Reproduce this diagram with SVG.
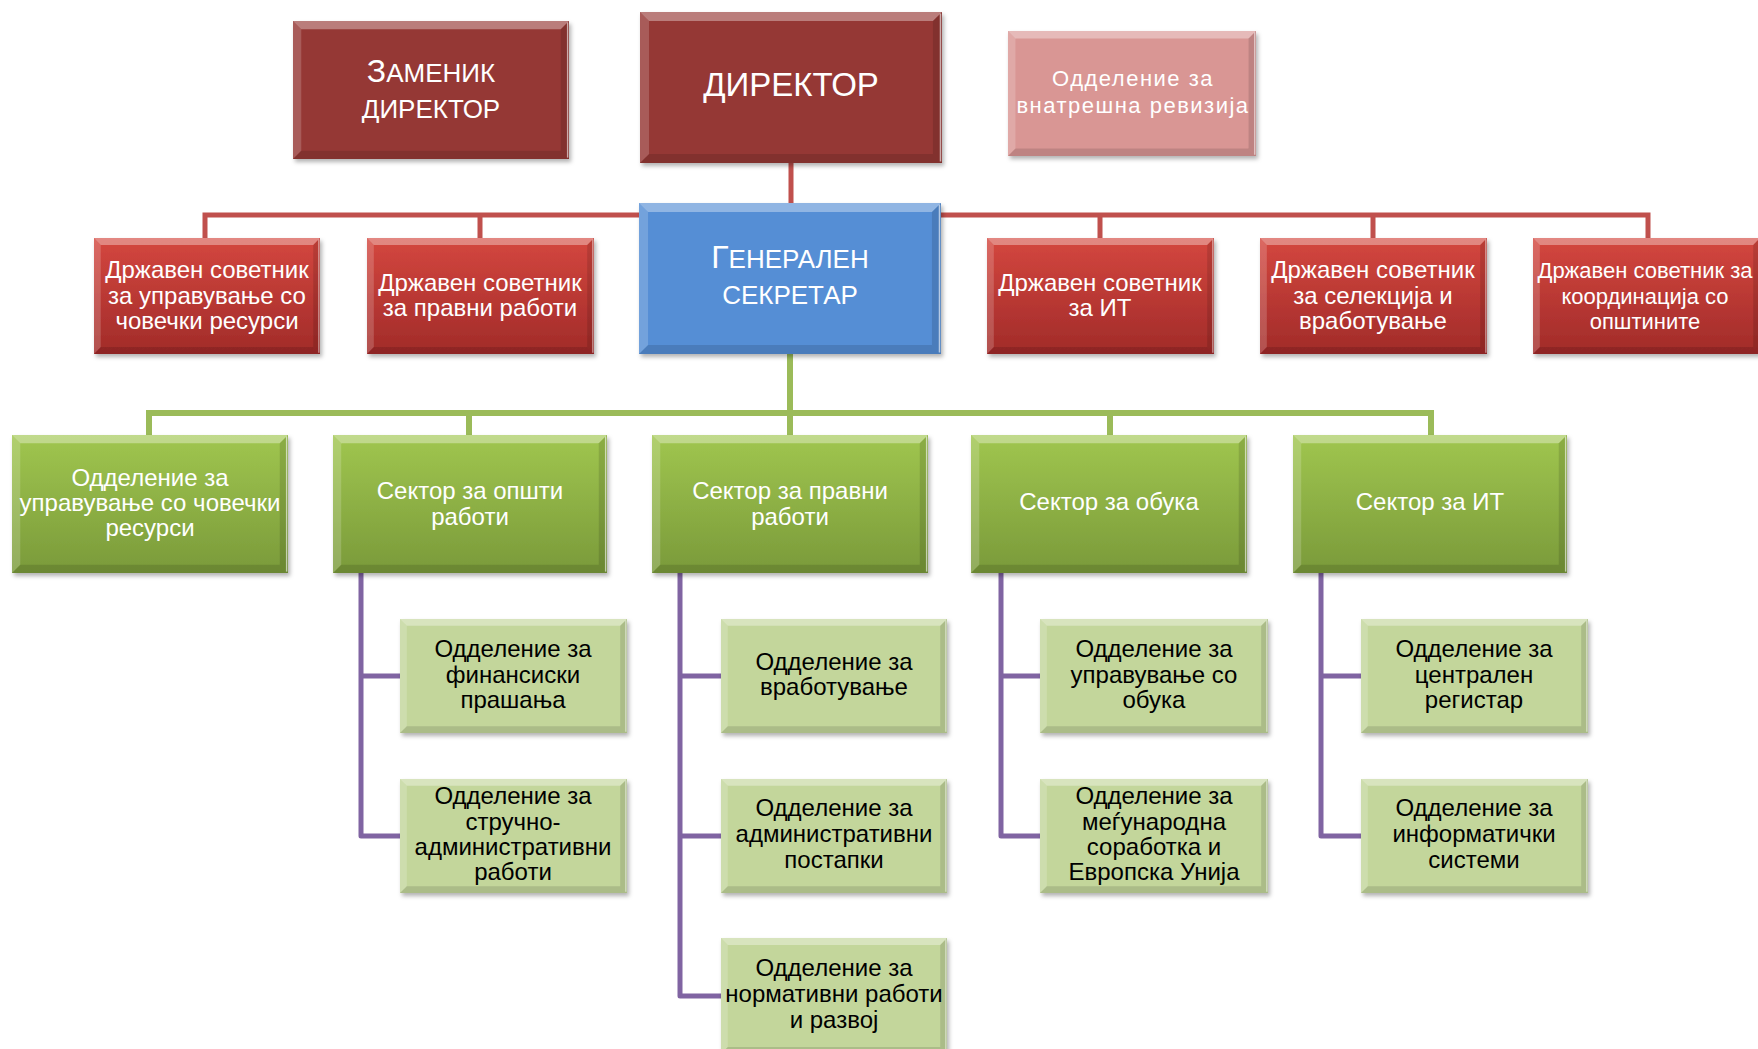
<svg xmlns="http://www.w3.org/2000/svg" xmlns:xlink="http://www.w3.org/1999/xlink" width="1758" height="1049" viewBox="0 0 1758 1049">
<style>
.t{font-family:"Liberation Sans",Arial,sans-serif;text-anchor:middle;font-size:24px}
.w{fill:#fff}
.k{fill:#000}
.s22{font-size:22px}
.s26{font-size:26px}
.s33{font-size:33px}
.rev{font-size:22px;letter-spacing:1.5px}
.dr{fill:#953735}
.pk{fill:#D99694}
.bl{fill:#558ED5}
.rd{fill:url(#gRed)}
.gr{fill:url(#gGreen)}
.lg{fill:#C3D69B}
.box{filter:url(#ds)}
.cr{fill:none;stroke:#C0504D;stroke-width:5}
.cg{fill:none;stroke:#9BBB59;stroke-width:6}
.cp{fill:none;stroke:#8064A2;stroke-width:5;stroke-linejoin:round}
</style>
<defs>
<linearGradient id="gRed" x1="0" y1="0" x2="0" y2="1">
<stop offset="0" stop-color="#D4473F"/><stop offset="1" stop-color="#A12B29"/>
</linearGradient>
<linearGradient id="gGreen" x1="0" y1="0" x2="0" y2="1">
<stop offset="0" stop-color="#A0C64F"/><stop offset="1" stop-color="#7A9A3A"/>
</linearGradient>
<filter id="ds" x="-5%" y="-5%" width="115%" height="120%">
<feDropShadow dx="2" dy="3" stdDeviation="2" flood-color="#000" flood-opacity="0.3"/>
</filter>
<symbol id="bev" viewBox="0 0 200 100" preserveAspectRatio="none">
<path d="M0 0H200L194 6H6Z" fill="#fff" fill-opacity="0.35"/>
<path d="M0 0L6 6V94L0 100Z" fill="#fff" fill-opacity="0.18"/>
<path d="M200 0V100L194 94V6Z" fill="#000" fill-opacity="0.12"/>
<path d="M0 100H200L194 94H6Z" fill="#000" fill-opacity="0.12"/>
<path d="M199 1V99" stroke="#fff" stroke-opacity="0.6" stroke-width="1" fill="none"/>
</symbol>
</defs>

<g id="connectors">
<path class="cr" d="M791 163V203M205 238V215H1648V238M480 215V238M1100 215V238M1373 215V238"/>
<path class="cg" d="M790 354V413M149 435V413H1431V435M469 413V435M790 413V435M1110 413V435"/>
<path class="cp" d="M361 573V836H400M361 676H400M680 573V996H721M680 676H721M680 836H721M1001 573V836H1040M1001 676H1040M1321 573V836H1361M1321 676H1361"/>
</g>

<g id="zamenik">
<rect class="box dr" x="293" y="21" width="276" height="138"/>
<use xlink:href="#bev" x="293" y="21" width="276" height="138"/>
<text class="t w" x="431" y="82"><tspan style="font-size:32px">З</tspan><tspan class="s26">АМЕНИК</tspan></text>
<text class="t w s26" x="431" y="118">ДИРЕКТОР</text>
</g>
<g id="direktor">
<rect class="box dr" x="640" y="12" width="302" height="151"/>
<use xlink:href="#bev" x="640" y="12" width="302" height="151"/>
<text class="t w s33" x="791" y="96">ДИРЕКТОР</text>
</g>
<g id="revizija">
<rect class="box pk" x="1008" y="31" width="248" height="125"/>
<use xlink:href="#bev" x="1008" y="31" width="248" height="125"/>
<text class="t w rev" x="1133" y="86">Одделение за</text>
<text class="t w rev" x="1133" y="113">внатрешна ревизија</text>
</g>

<g id="generalen">
<rect class="box bl" x="639" y="203" width="302" height="151"/>
<use xlink:href="#bev" x="639" y="203" width="302" height="151"/>
<text class="t w" x="790" y="268"><tspan style="font-size:32px">Г</tspan><tspan class="s26">ЕНЕРАЛЕН</tspan></text>
<text class="t w s26" x="790" y="304">СЕКРЕТАР</text>
</g>

<g id="sov-cr">
<rect class="box rd" x="94" y="238" width="226" height="116"/>
<use xlink:href="#bev" x="94" y="238" width="226" height="116"/>
<text class="t w" x="207" y="278">Државен советник</text>
<text class="t w" x="207" y="304">за управување со</text>
<text class="t w" x="207" y="329">човечки ресурси</text>
</g>
<g id="sov-pravni">
<rect class="box rd" x="367" y="238" width="227" height="116"/>
<use xlink:href="#bev" x="367" y="238" width="227" height="116"/>
<text class="t w" x="480" y="291">Државен советник</text>
<text class="t w" x="480" y="316">за правни работи</text>
</g>
<g id="sov-it">
<rect class="box rd" x="987" y="238" width="227" height="116"/>
<use xlink:href="#bev" x="987" y="238" width="227" height="116"/>
<text class="t w" x="1100" y="291">Државен советник</text>
<text class="t w" x="1100" y="316">за ИТ</text>
</g>
<g id="sov-selekcija">
<rect class="box rd" x="1260" y="238" width="227" height="116"/>
<use xlink:href="#bev" x="1260" y="238" width="227" height="116"/>
<text class="t w" x="1373" y="278">Државен советник</text>
<text class="t w" x="1373" y="304">за селекција и</text>
<text class="t w" x="1373" y="329">вработување</text>
</g>
<g id="sov-opstini">
<rect class="box rd" x="1533" y="238" width="227" height="116"/>
<use xlink:href="#bev" x="1533" y="238" width="227" height="116"/>
<text class="t w s22" x="1645" y="278">Државен советник за</text>
<text class="t w s22" x="1645" y="304">координација со</text>
<text class="t w s22" x="1645" y="329">општините</text>
</g>

<g id="odd-cr">
<rect class="box gr" x="12" y="435" width="276" height="138"/>
<use xlink:href="#bev" x="12" y="435" width="276" height="138"/>
<text class="t w" x="150" y="486">Одделение за</text>
<text class="t w" x="150" y="511">управување со човечки</text>
<text class="t w" x="150" y="536">ресурси</text>
</g>
<g id="sek-opsti">
<rect class="box gr" x="333" y="435" width="274" height="138"/>
<use xlink:href="#bev" x="333" y="435" width="274" height="138"/>
<text class="t w" x="470" y="499">Сектор за општи</text>
<text class="t w" x="470" y="525">работи</text>
</g>
<g id="sek-pravni">
<rect class="box gr" x="652" y="435" width="276" height="138"/>
<use xlink:href="#bev" x="652" y="435" width="276" height="138"/>
<text class="t w" x="790" y="499">Сектор за правни</text>
<text class="t w" x="790" y="525">работи</text>
</g>
<g id="sek-obuka">
<rect class="box gr" x="971" y="435" width="276" height="138"/>
<use xlink:href="#bev" x="971" y="435" width="276" height="138"/>
<text class="t w" x="1109" y="510">Сектор за обука</text>
</g>
<g id="sek-it">
<rect class="box gr" x="1293" y="435" width="274" height="138"/>
<use xlink:href="#bev" x="1293" y="435" width="274" height="138"/>
<text class="t w" x="1430" y="510">Сектор за ИТ</text>
</g>

<g id="odd-finansiski">
<rect class="box lg" x="400" y="619" width="227" height="114"/>
<use xlink:href="#bev" x="400" y="619" width="227" height="114"/>
<text class="t k" x="513" y="657">Одделение за</text>
<text class="t k" x="513" y="683">финансиски</text>
<text class="t k" x="513" y="708">прашања</text>
</g>
<g id="odd-strucno">
<rect class="box lg" x="400" y="779" width="227" height="114"/>
<use xlink:href="#bev" x="400" y="779" width="227" height="114"/>
<text class="t k" x="513" y="804">Одделение за</text>
<text class="t k" x="513" y="830">стручно-</text>
<text class="t k" x="513" y="855">административни</text>
<text class="t k" x="513" y="880">работи</text>
</g>
<g id="odd-vrabotuvanje">
<rect class="box lg" x="721" y="619" width="226" height="114"/>
<use xlink:href="#bev" x="721" y="619" width="226" height="114"/>
<text class="t k" x="834" y="670">Одделение за</text>
<text class="t k" x="834" y="695">вработување</text>
</g>
<g id="odd-admin">
<rect class="box lg" x="721" y="779" width="226" height="114"/>
<use xlink:href="#bev" x="721" y="779" width="226" height="114"/>
<text class="t k" x="834" y="816">Одделение за</text>
<text class="t k" x="834" y="842">административни</text>
<text class="t k" x="834" y="868">постапки</text>
</g>
<g id="odd-normativni">
<rect class="box lg" x="721" y="938" width="226" height="116"/>
<use xlink:href="#bev" x="721" y="938" width="226" height="116"/>
<text class="t k" x="834" y="976">Одделение за</text>
<text class="t k" x="834" y="1002">нормативни работи</text>
<text class="t k" x="834" y="1028">и развој</text>
</g>
<g id="odd-obuka">
<rect class="box lg" x="1040" y="619" width="228" height="114"/>
<use xlink:href="#bev" x="1040" y="619" width="228" height="114"/>
<text class="t k" x="1154" y="657">Одделение за</text>
<text class="t k" x="1154" y="683">управување со</text>
<text class="t k" x="1154" y="708">обука</text>
</g>
<g id="odd-megjunarodna">
<rect class="box lg" x="1040" y="779" width="228" height="114"/>
<use xlink:href="#bev" x="1040" y="779" width="228" height="114"/>
<text class="t k" x="1154" y="804">Одделение за</text>
<text class="t k" x="1154" y="830">меѓународна</text>
<text class="t k" x="1154" y="855">соработка и</text>
<text class="t k" x="1154" y="880">Европска Унија</text>
</g>
<g id="odd-registar">
<rect class="box lg" x="1361" y="619" width="227" height="114"/>
<use xlink:href="#bev" x="1361" y="619" width="227" height="114"/>
<text class="t k" x="1474" y="657">Одделение за</text>
<text class="t k" x="1474" y="683">централен</text>
<text class="t k" x="1474" y="708">регистар</text>
</g>
<g id="odd-informaticki">
<rect class="box lg" x="1361" y="779" width="227" height="114"/>
<use xlink:href="#bev" x="1361" y="779" width="227" height="114"/>
<text class="t k" x="1474" y="816">Одделение за</text>
<text class="t k" x="1474" y="842">информатички</text>
<text class="t k" x="1474" y="868">системи</text>
</g>
</svg>
